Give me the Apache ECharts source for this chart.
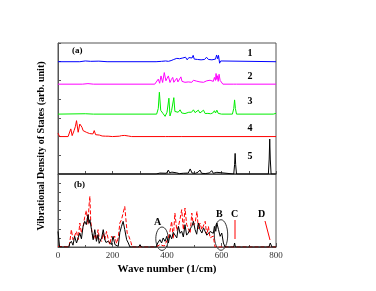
<!DOCTYPE html>
<html><head><meta charset="utf-8">
<script src="https://cdn.jsdelivr.net/npm/echarts@6/dist/echarts.min.js"></script>
<style>html,body{margin:0;padding:0;background:#fff}#c{width:376px;height:291px}</style>
</head><body><div id="c"></div>
<script>
// Panel (a): offsets (arb. units) for spectra 1..5
var offsets = [6.0, 4.8, 3.2, 2.0, 0.0];
var seriesLabels = ['1','2','3','4','5'];
var xTicks = [0, 200, 400, 600, 800];

var s1 = [[0,0],[80,0],[100,0.04],[120,0.02],[150,0.03],[180,0],[360,0],[380,0.02],[386,-0.02],[395,0.04],[405,0.02],[415,0.06],[425,0.12],[430,0.08],[436,0.18],[441,0.1],[446,0.16],[452,0.1],[458,0.2],[462,0.12],[468,0.24],[474,0.1],[480,0.22],[486,0.14],[492,0.2],[496,0.34],[500,0.14],[506,0.22],[512,0.12],[518,0.18],[525,0.1],[532,0.2],[538,0.12],[545,0.24],[552,0.12],[558,0.16],[565,0.1],[572,0.2],[578,0.14],[582,0.36],[586,0.16],[589,0.34],[593,-0.08],[597,0.04],[603,0],[800,0]];
var s2 = [[0,0],[90,0],[110,0.03],[130,0],[355,0],[362,0.05],[368,0.27],[373,0.05],[378,0.44],[384,0.09],[390,0.62],[396,0.18],[400,0.3],[405,0.44],[411,0.09],[416,0.25],[421,0.36],[425,0.1],[429,0.14],[436,0.32],[440,0.12],[445,0.18],[451,0.39],[455,0.15],[460,0.21],[466,0.1],[472,0.18],[478,0.12],[485,0.14],[491,0.1],[497,0.21],[503,0.12],[509,0.16],[515,0.1],[521,0.12],[527,0.16],[534,0.1],[540,0.14],[546,0.18],[552,0.12],[558,0.21],[565,0.27],[570,0.15],[574,0.36],[578,0.2],[580,0.57],[583,0.25],[585,0.45],[588,0.15],[591,0.53],[595,0.2],[598,0.27],[605,0],[645,0],[650,0.05],[655,0],[800,0]];
var s3 = [[0,0],[100,0.02],[130,0],[362,0],[368,0.3],[372,1.17],[377,0.2],[385,0.04],[393,-0.12],[400,0.1],[407,0.85],[411,-0.1],[417,0.2],[421,0.3],[425,0.88],[429,0.14],[436,0.04],[441,0.1],[448,0.23],[454,0.06],[460,0.1],[466,0.03],[473,0.06],[480,0.1],[485,0.18],[490,0.1],[497,0.23],[503,0.08],[509,0.1],[515,0.21],[521,0.06],[527,0.14],[534,0.21],[540,0.03],[550,0.04],[560,0.02],[568,0.06],[574,0.18],[578,0.06],[583,0.21],[588,0.04],[600,0],[640,0],[645,0.3],[648,0.76],[651,0.3],[655,0],[790,0],[795,0.1],[800,0.04]];
var s4 = [[0,0.18],[3,0.18],[6,0],[37,0],[42,0.1],[47,0.41],[52,0.05],[59,0.32],[64,0.55],[68,0.85],[74,0.23],[80,0.67],[84,0.76],[88,0.5],[92,0.32],[98,0.36],[104,0.23],[110,0.18],[116,0.16],[123,0.1],[128,0.14],[133,0.32],[138,0.1],[145,0.05],[152,0.08],[157,0.18],[162,0.03],[175,0.02],[184,0.02],[200,0],[225,0.02],[233,0.05],[240,0.07],[245,0.06],[252,0.07],[258,0.03],[270,0],[395,0],[399,0.05],[404,0],[444,0],[448,0.03],[452,0],[800,0]];
var s5 = [[0,0],[360,0],[374,0.05],[380,0],[398,0.04],[405,0.21],[410,0.06],[418,0.1],[425,0.04],[436,0.06],[445,0.02],[460,0.04],[478,0.05],[485,0.27],[492,0.05],[505,0.04],[514,0.1],[521,0.21],[527,0.04],[540,0.02],[556,0.06],[564,0.18],[570,0.04],[583,0.09],[590,0],[645,0],[648,0.5],[650,1.1],[652,0.5],[655,0],[772,0],[775,0.8],[777,1.87],[779,0.8],[782,0],[800,0]];

// Panel (b)
var bBlack = [[0,1.7],[3,1.6],[6,0],[40,0],[43,0.4],[49,0.62],[55,0.2],[61,1.17],[68,0.44],[74,1.0],[80,1.53],[86,0.9],[92,2.26],[98,2.81],[104,2.45],[110,3.54],[114,2.6],[117,2.99],[123,1.9],[129,0.8],[135,1.9],[138,1.35],[141,0.62],[147,1.35],[151,0.4],[154,0.26],[160,0.99],[166,1.9],[172,0.8],[176,0.5],[178,0.62],[184,0.62],[190,0.62],[196,0.26],[202,1.17],[209,0.26],[215,0.4],[221,0.07],[227,1.6],[233,2.26],[239,2.81],[245,1.9],[252,0.8],[258,0.44],[264,0],[296,0],[301,0.26],[306,0],[360,0],[366,0.44],[374,0.8],[380,0.44],[386,0.99],[393,0.62],[399,1.17],[405,0.44],[411,1.35],[417,0.9],[423,1.6],[429,1.53],[436,1.0],[442,2.26],[448,1.5],[454,1.72],[460,1.1],[466,2.45],[472,1.3],[478,1.53],[485,2.0],[491,2.26],[497,2.81],[503,1.9],[509,1.4],[515,2.63],[521,1.9],[528,1.53],[534,2.1],[540,2.08],[546,1.3],[552,1.17],[558,1.7],[564,1.9],[570,1.5],[574,2.26],[579,1.72],[583,2.63],[589,1.9],[595,1.17],[601,1.53],[607,0.44],[613,0],[645,0],[648,0.44],[651,0],[695,0],[699,0.15],[703,0],[774,0],[779,0.44],[785,0],[800,0]];
var bRed = [[0,0.07],[6,0],[40,0],[43,0.44],[49,1.9],[55,0.8],[61,1.0],[68,1.72],[74,0.8],[80,2.63],[86,1.53],[92,2.2],[98,3.28],[104,4.0],[110,2.5],[114,4.6],[117,5.55],[120,2.9],[125,1.53],[130,0.8],[136,1.4],[141,0.8],[147,1.9],[152,0.9],[160,0.62],[166,1.5],[172,0.8],[178,1.7],[184,0.9],[190,0.26],[196,1.17],[202,0.8],[208,1.2],[215,0.4],[221,1.0],[227,2.63],[233,2.99],[239,3.72],[245,4.45],[249,3.1],[254,1.5],[260,1.17],[268,0.5],[272,0],[360,0],[374,0.26],[390,0.1],[405,1.0],[411,1.72],[417,2.81],[423,0.9],[429,3.72],[436,1.8],[442,2.26],[448,3.1],[454,4.09],[460,1.9],[466,4.27],[472,2.5],[478,2.63],[485,1.5],[491,3.72],[497,2.4],[503,2.63],[510,3.9],[515,2.0],[521,2.63],[528,1.9],[534,1.72],[540,2.81],[546,1.3],[552,2.26],[558,1.0],[564,0.8],[570,1.2],[576,0],[800,0]];

var specs = [s1, s2, s3, s4, s5];
var specColors = ['#0000ff', '#ff00ff', '#00ee00', '#ff0000', '#000000'];

var serif = 'Liberation Serif, Times New Roman, serif';
var chart = echarts.init(document.getElementById('c'), null, {renderer: 'canvas'});

var series = specs.map(function (d, i) {
  return {
    type: 'line', xAxisIndex: 0, yAxisIndex: 0, showSymbol: false, silent: true,
    data: d.map(function (p) { return [p[0], p[1] + offsets[i]]; }),
    lineStyle: {color: specColors[i], width: 1}, itemStyle: {color: specColors[i]}
  };
});
series.push({type: 'line', xAxisIndex: 1, yAxisIndex: 1, showSymbol: false, silent: true, data: bRed,
  lineStyle: {color: '#ff0000', width: 1, type: [4, 2]}});
series.push({type: 'line', xAxisIndex: 1, yAxisIndex: 1, showSymbol: false, silent: true, data: bBlack,
  lineStyle: {color: '#000000', width: 1}});

var frame = '#555';
var txt = function (t, x, y, size) {
  return {type: 'text', left: x, top: y, style: {text: t, font: 'bold ' + size + 'px ' + serif, fill: '#000'}};
};
var graphics = [
  txt('(a)', 72, 46, 9), txt('(b)', 74, 180, 9),
  txt('A', 154, 217, 10), txt('B', 216, 209, 10), txt('C', 231, 209, 10), txt('D', 258, 209, 10),
  {type: 'ellipse', shape: {cx: 162, cy: 238.7, rx: 6.2, ry: 11.7}, style: {fill: 'none', stroke: '#000', lineWidth: 0.8}},
  {type: 'ellipse', shape: {cx: 221, cy: 235, rx: 6.7, ry: 15.3}, style: {fill: 'none', stroke: '#000', lineWidth: 0.8}},
  {type: 'line', shape: {x1: 235, y1: 220, x2: 235, y2: 239}, style: {stroke: '#ff0000', lineWidth: 1}},
  {type: 'line', shape: {x1: 265, y1: 221, x2: 270, y2: 240}, style: {stroke: '#ff0000', lineWidth: 1}},
  {type: 'text', x: 41, y: 146, rotation: Math.PI / 2, style: {text: 'Vibrational Density of States (arb. unit)', font: 'bold 10px ' + serif, fill: '#000', textAlign: 'center', textVerticalAlign: 'middle'}}
];
var labelY = [53, 76.5, 101.5, 128, 156.5];
seriesLabels.forEach(function (l, i) {
  graphics.push({type: 'text', x: 250, y: labelY[i], style: {text: l, font: 'bold 10px ' + serif, fill: '#000', textAlign: 'center', textVerticalAlign: 'middle'}});
});

chart.setOption({
  animation: false,
  grid: [
    {left: 58, top: 43, width: 218, height: 131, show: true, borderColor: frame, borderWidth: 1},
    {left: 58, top: 174, width: 218, height: 73, show: true, borderColor: frame, borderWidth: 1}
  ],
  xAxis: [
    {gridIndex: 0, type: 'value', min: 0, max: 800, interval: 100,
      axisLine: {lineStyle: {color: frame}}, axisTick: {inside: true, length: 3, lineStyle: {color: frame}},
      axisLabel: {show: false}, splitLine: {show: false}},
    {gridIndex: 1, type: 'value', min: 0, max: 800, interval: 200,
      axisLine: {lineStyle: {color: frame}}, axisTick: {inside: true, length: 4, lineStyle: {color: frame}},
      minorTick: {show: true, splitNumber: 2, length: 2, lineStyle: {color: frame}},
      axisLabel: {fontFamily: serif, fontSize: 9, color: '#333', margin: 4,
        formatter: function (v) { return xTicks.indexOf(v) >= 0 ? String(v) : ''; }},
      splitLine: {show: false},
      name: 'Wave number (1/cm)', nameLocation: 'middle', nameGap: 17,
      nameTextStyle: {fontFamily: serif, fontWeight: 'bold', fontSize: 11, color: '#000'}}
  ],
  yAxis: [
    {gridIndex: 0, type: 'value', min: 0, max: 7, interval: 1,
      axisLine: {show: true, lineStyle: {color: frame}}, axisTick: {show: true, inside: true, length: 3, lineStyle: {color: frame}},
      axisLabel: {show: false}, splitLine: {show: false}},
    {gridIndex: 1, type: 'value', min: 0, max: 8, interval: 1,
      axisLine: {show: true, lineStyle: {color: frame}}, axisTick: {show: true, inside: true, length: 3, lineStyle: {color: frame}},
      axisLabel: {show: false}, splitLine: {show: false}}
  ],
  series: series,
  graphic: graphics
});
</script></body></html>
